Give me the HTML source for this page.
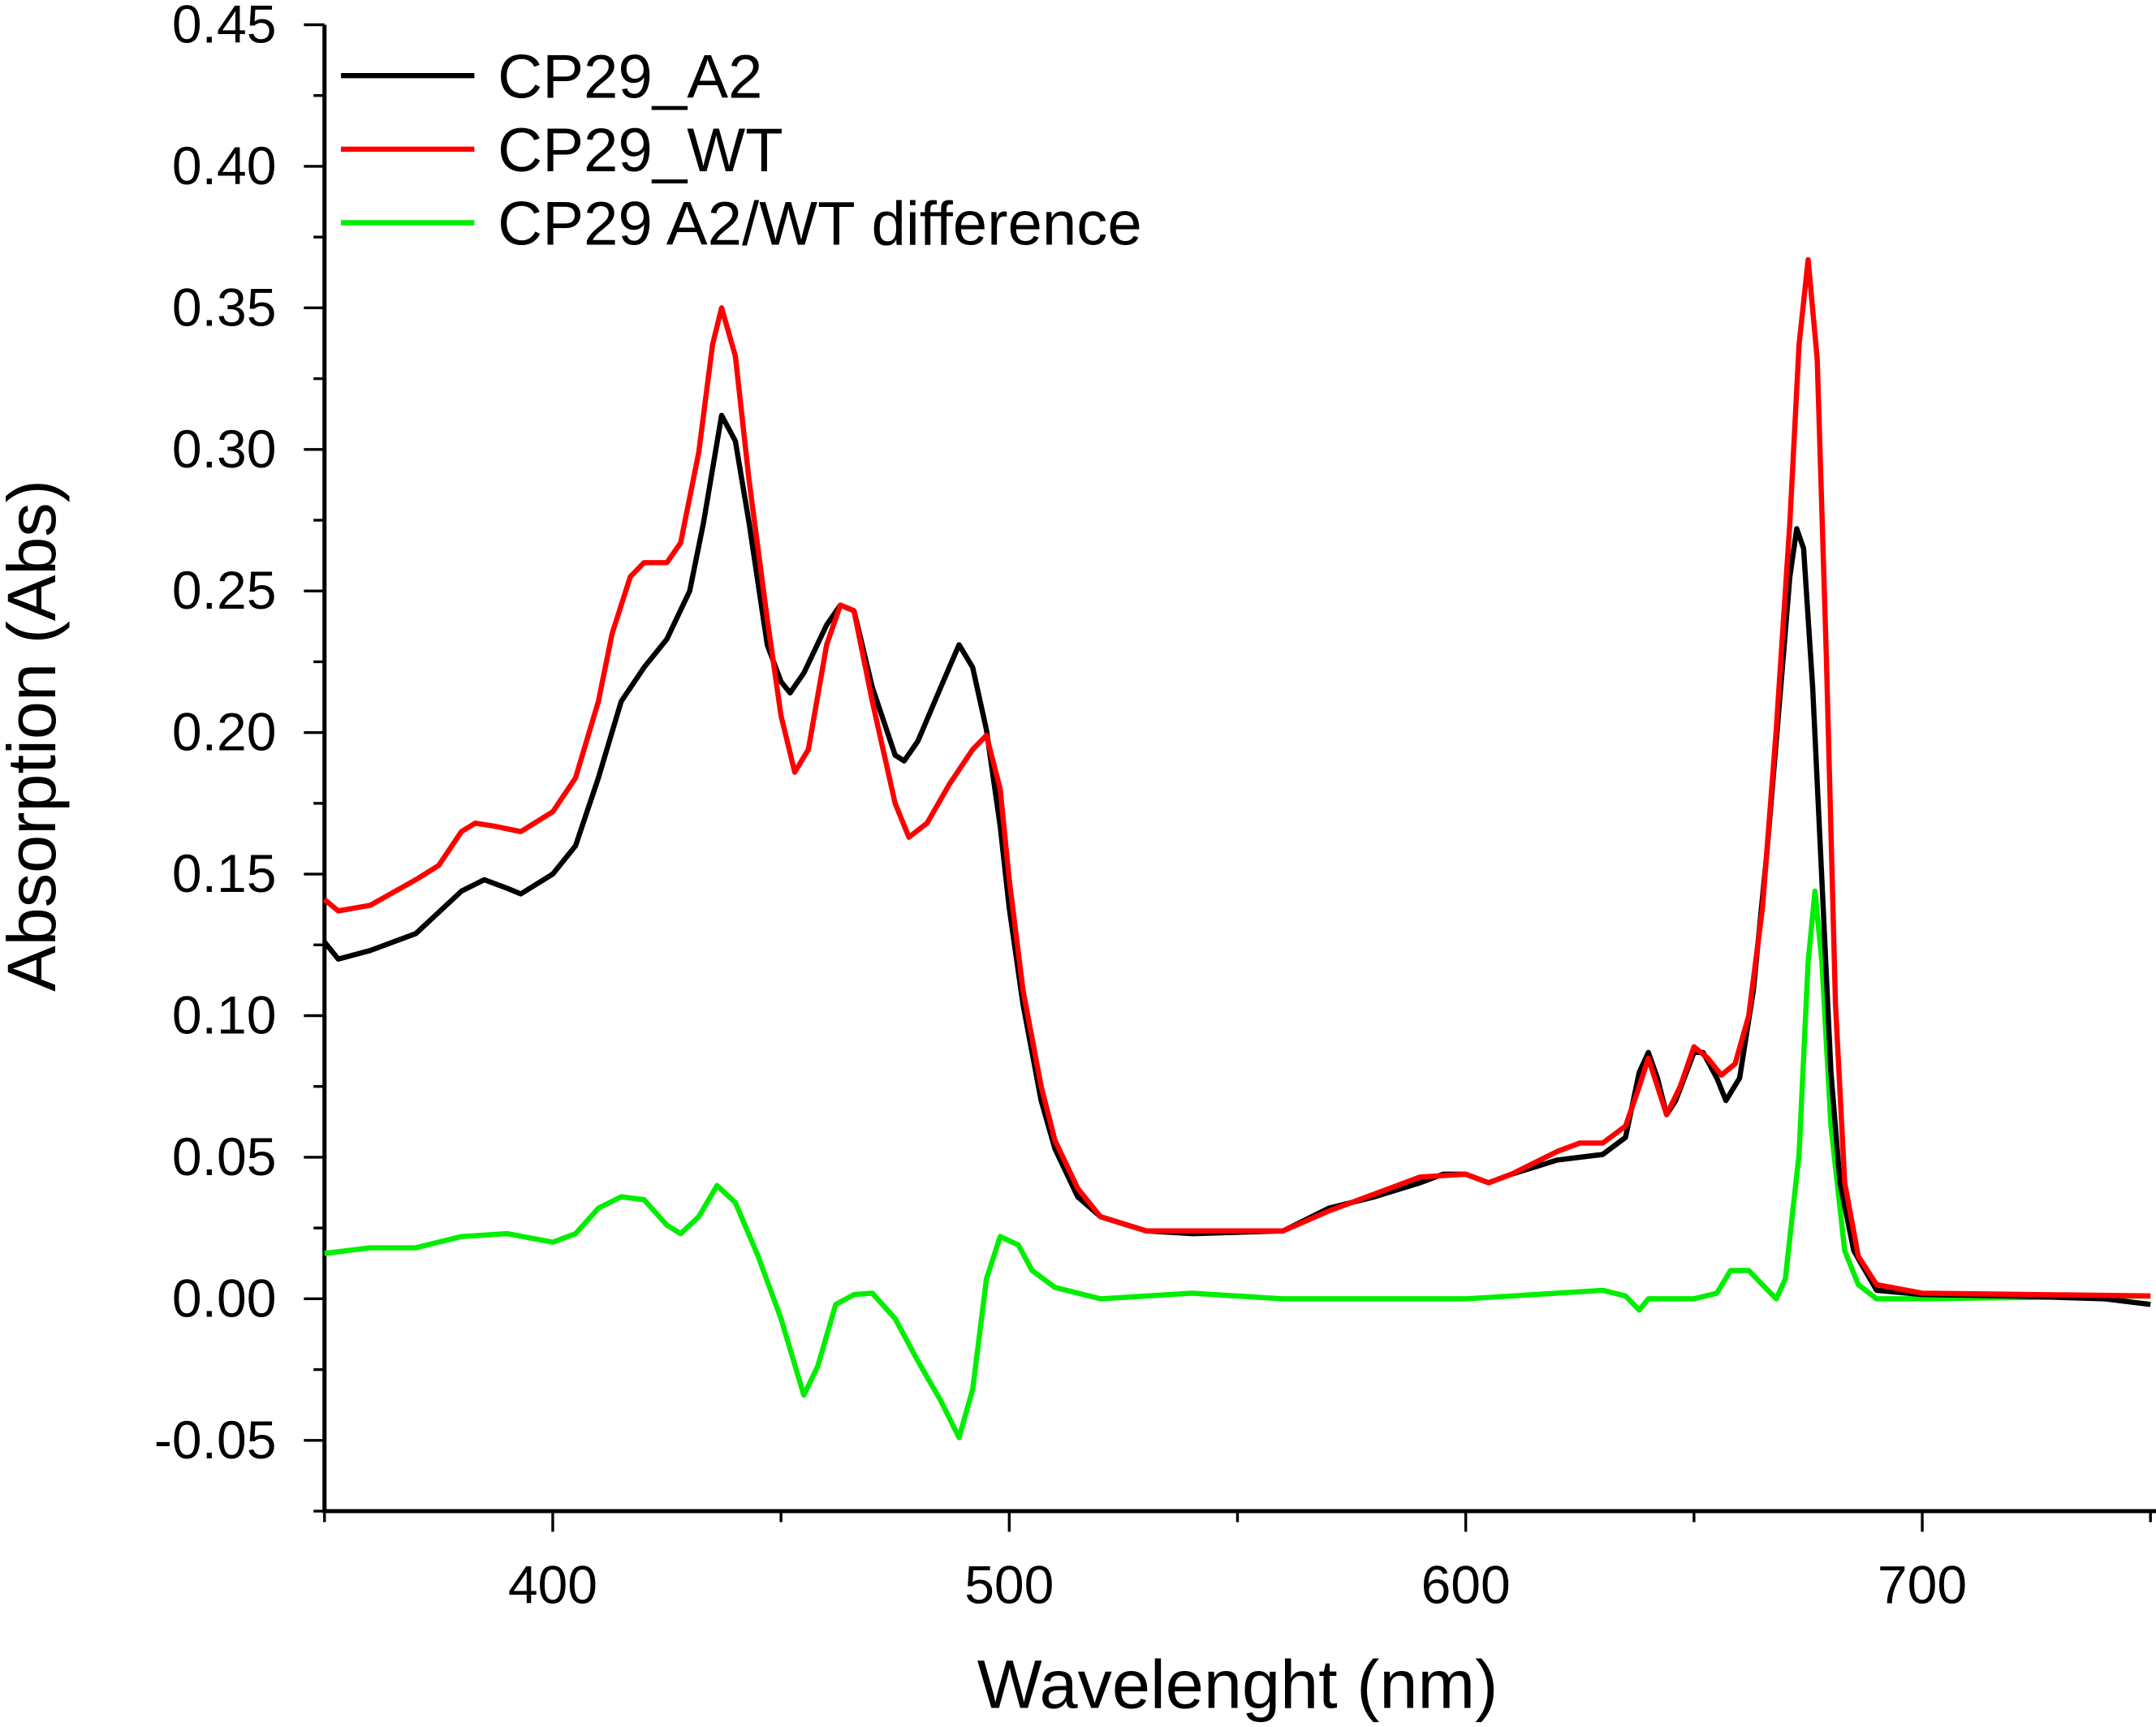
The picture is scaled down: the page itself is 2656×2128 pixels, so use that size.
<!DOCTYPE html>
<html><head><meta charset="utf-8"><style>
html,body{margin:0;padding:0;background:#fff;}
svg{display:block;font-family:"Liberation Sans",Arial,sans-serif;}
</style></head><body>
<svg id="chart" width="2656" height="2128" viewBox="0 0 1568 1256" preserveAspectRatio="none" xmlns="http://www.w3.org/2000/svg">
<rect width="1568" height="1256" fill="#fff"/>
<g id="axes"></g>
<g id="series"></g>
<g id="legend"></g>
<text transform="translate(40,535) rotate(-90)" text-anchor="middle" font-size="50">Absorption (Abs)</text>
<text x="900" y="1242" text-anchor="middle" font-size="50">Wavelenght (nm)</text>
</svg>
<script>
const xTicks=[400,500,600,700];
const yTicks=[-0.05,0,0.05,0.10,0.15,0.20,0.25,0.30,0.35,0.40,0.45];
const yTickLabels=["-0.05","0.00","0.05","0.10","0.15","0.20","0.25","0.30","0.35","0.40","0.45"];
const seriesNames=["CP29_A2","CP29_WT","CP29 A2/WT difference"];
const a2X=[350,353,360,370,380,385,390,393,400,405,410,415,420,425,430,433,437,440,443,447,450,452,455,460,463,466,470,475,477,480,485,489,492,495,498,500,503,507,510,515,520,530,540,560,570,580,590,595,600,605,610,620,630,635,638,640,642,644,646,650,652,655,657,660,663,666,669,671,672.5,674,676,678,680,682,685,690,700,720,740,750];
const a2Y=[0.126,0.120,0.123,0.129,0.144,0.148,0.145,0.143,0.150,0.160,0.184,0.211,0.223,0.233,0.250,0.274,0.312,0.303,0.274,0.231,0.218,0.214,0.221,0.238,0.245,0.243,0.216,0.192,0.190,0.197,0.216,0.231,0.223,0.201,0.167,0.138,0.104,0.070,0.053,0.036,0.029,0.024,0.023,0.024,0.032,0.036,0.041,0.044,0.044,0.041,0.044,0.049,0.051,0.057,0.080,0.087,0.078,0.065,0.070,0.087,0.087,0.078,0.070,0.078,0.109,0.158,0.216,0.255,0.272,0.265,0.216,0.148,0.080,0.041,0.017,0.003,0.0015,0.001,0,-0.002];
const wtX=[350,353,360,370,375,380,383,387,393,400,405,410,413,417,420,425,428,432,435,437,440,443,447,450,453,456,460,463,466,470,475,478,482,487,492,495,498,500,503,507,510,515,520,530,550,560,570,580,590,600,605,610,620,625,630,635,638,640,642,644,647,650,653,656,659,662,665,668,671,673,675,677,679,681,683,686,690,700,750];
const wtY=[0.141,0.137,0.139,0.148,0.153,0.165,0.168,0.167,0.165,0.172,0.184,0.211,0.235,0.255,0.260,0.260,0.267,0.299,0.337,0.350,0.333,0.289,0.240,0.206,0.186,0.194,0.231,0.245,0.243,0.211,0.175,0.163,0.168,0.182,0.194,0.199,0.180,0.148,0.109,0.075,0.056,0.039,0.029,0.024,0.024,0.024,0.031,0.037,0.043,0.044,0.041,0.044,0.052,0.055,0.055,0.061,0.075,0.085,0.075,0.065,0.075,0.089,0.085,0.079,0.083,0.100,0.138,0.201,0.274,0.337,0.367,0.332,0.226,0.104,0.041,0.015,0.005,0.002,0.001];
const dfX=[350,360,370,380,390,400,405,410,415,420,425,428,432,436,440,445,450,455,458,462,466,470,475,480,485,489,492,495,498,502,505,510,520,540,560,600,620,630,635,638,640,650,655,658,662,665,668,670,673,675,676.5,678,680,683,686,690,700,750];
const dfY=[0.016,0.018,0.018,0.022,0.023,0.020,0.023,0.032,0.036,0.035,0.026,0.023,0.029,0.040,0.034,0.015,-0.007,-0.034,-0.024,-0.002,0.0015,0.002,-0.007,-0.022,-0.036,-0.049,-0.032,0.007,0.022,0.019,0.010,0.004,0,0.002,0,0,0.002,0.003,0.001,-0.004,0,0,0.002,0.010,0.010,0.005,0,0.007,0.051,0.119,0.144,0.119,0.061,0.017,0.005,0,0,0.001];
const colors=["#000000","#ff0000","#00ee00"];

const X0=236,X1=1564,Y0=18,Y1=1099;
const xmin=350,xmax=750,ymin=-0.075,ymax=0.45;
const sx=v=>X0+(v-xmin)/(xmax-xmin)*(X1-X0);
const sy=v=>Y1-(v-ymin)/(ymax-ymin)*(Y1-Y0);
const NS="http://www.w3.org/2000/svg";
function mk(tag,attrs,parent){const e=document.createElementNS(NS,tag);for(const k in attrs)e.setAttribute(k,attrs[k]);parent.appendChild(e);return e;}
const axes=document.getElementById('axes');
let l=mk('line',{x1:X0,y1:Y0,x2:X0,y2:Y1,stroke:'#000','stroke-width':3},axes);


l=mk('line',{x1:X0-1.5,y1:Y1,x2:X1+4,y2:Y1,stroke:'#000','stroke-width':3},axes);


for(let v=-0.075;v<=0.4501;v+=0.025){const major=Math.abs(Math.round(v*20)-v*20)<1e-6;const t=mk('line',{x1:X0-(major?15:8),y1:sy(v),x2:X0,y2:sy(v),stroke:'#000','stroke-width':2},axes);

}
yTicks.forEach((v,i)=>{const t=mk('text',{x:201,y:sy(v)+13,'text-anchor':'end','font-size':39},axes);t.textContent=yTickLabels[i];

});
for(let v=350;v<=750;v+=50){const major=v%100===0;const t=mk('line',{x1:sx(v),y1:Y1,x2:sx(v),y2:Y1+(major?15:8),stroke:'#000','stroke-width':2},axes);

}
xTicks.forEach(v=>{const t=mk('text',{x:sx(v),y:1166,'text-anchor':'middle','font-size':39},axes);t.textContent=String(v);

});
const ser=document.getElementById('series');
const data=[[a2X,a2Y],[wtX,wtY],[dfX,dfY]];
const order=[2,0,1];
order.forEach(i=>{const [xs,ys]=data[i];const d=xs.map((x,j)=>(j?'L':'M')+sx(x).toFixed(1)+','+sy(ys[j]).toFixed(1)).join(' ');
const p=mk('path',{d:d,fill:'none',stroke:colors[i],'stroke-width':3.8,'stroke-linejoin':'round'},ser);

});
const lg=document.getElementById('legend');
seriesNames.forEach((n,i)=>{const y=55+i*53.5;
const ln=mk('line',{x1:248,y1:y,x2:345,y2:y,stroke:colors[i],'stroke-width':3.8},lg);


const t=mk('text',{x:362,y:y+16,'font-size':45},lg);t.textContent=n;

});
</script>
</body></html>
